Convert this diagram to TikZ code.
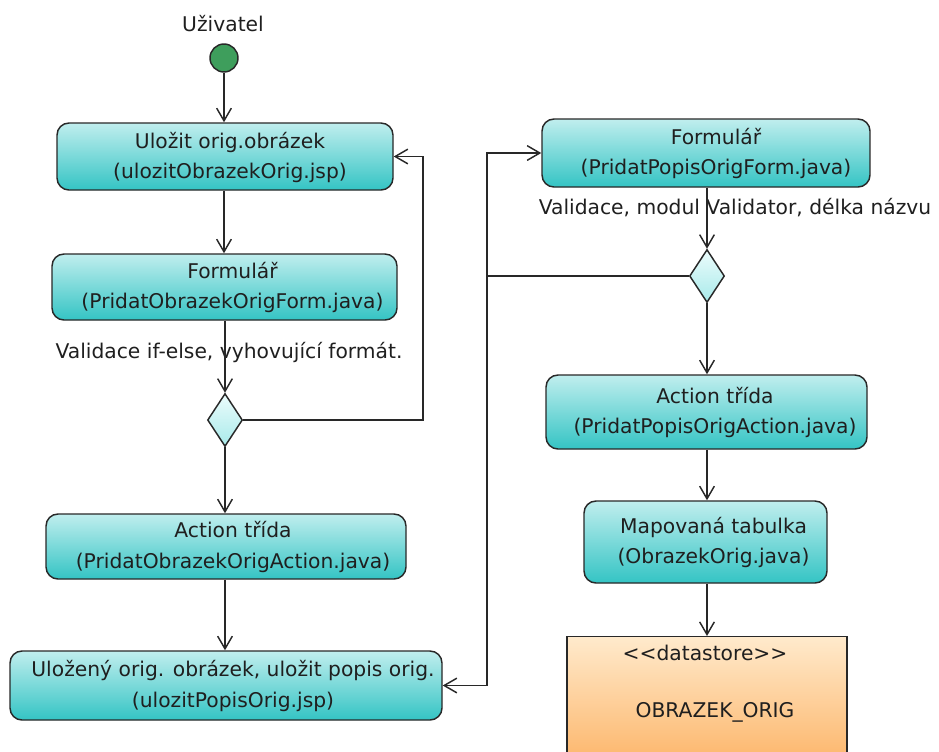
\documentclass[tikz,border=0pt]{standalone}
\usepackage{fontspec}
\setmainfont{DejaVu Sans}
\usetikzlibrary{arrows.meta,shapes.geometric}
\definecolor{actTop}{RGB}{192,238,238}
\definecolor{actBot}{RGB}{52,196,196}
\definecolor{decTop}{RGB}{236,252,252}
\definecolor{decBot}{RGB}{168,234,234}
\definecolor{storeTop}{RGB}{255,234,204}
\definecolor{storeBot}{RGB}{252,176,96}
\definecolor{startFill}{RGB}{62,158,92}
\definecolor{edge}{RGB}{40,40,40}
\begin{document}
\begin{tikzpicture}[x=0.75pt,y=-0.75pt,
  font=\fontsize{15.2}{23.2}\selectfont,
  every node/.style={text=black!88},
  act/.style 2 args={draw=edge, line width=1.1pt, rounded corners=9pt,
    top color=actTop, bottom color=actBot, inner sep=0pt,
    minimum width=#1*0.75pt, minimum height=#2*0.75pt},
  txt/.style={align=center, inner sep=0pt},
  decision/.style={diamond, draw=edge, line width=1.1pt, inner sep=0pt,
    top color=decTop, bottom color=decBot,
    minimum width=35*0.75pt, minimum height=53*0.75pt},
  store/.style={draw=edge, line width=1.1pt, inner sep=0pt,
    top color=storeTop, bottom color=storeBot},
  flow/.style={draw=edge, line width=1.1pt,
    -{Straight Barb[length=9.5pt,width=11pt,line width=1.1pt]}},
]
\useasboundingbox (0,0) rectangle (939,751);
\clip (0,0) rectangle (939,751);

% start point
\node[txt] (user) at (223,24) {Uživatel};
\node[circle, draw=edge, line width=1.1pt, fill=startFill,
      minimum size=28*0.75pt, inner sep=0pt] (start) at (224,58) {};

% left column
\node[act={336}{67}] (b1) at (225,156.5) {};
\node[txt] (t1) at (230,157.5) {Uložit orig.obrázek\\(ulozitObrazekOrig.jsp)};

\node[act={345}{66}] (b2) at (224.5,287) {};
\node[txt] (t2) at (232.5,287.5) {Formulář\\(PridatObrazekOrigForm.java)};

\node[txt] (v1) at (229,352) {Validace if-else, vyhovující formát.};

\node[decision] (d1) at (225,420) {};

\node[act={360}{65}] (b3) at (226,546.5) {};
\node[txt] (t3) at (233,547) {Action třída\\(PridatObrazekOrigAction.java)};

\node[act={432}{69}] (b4) at (226,685.5) {};
\node[txt] (t4) at (233,686) {Uložený orig. obrázek, uložit popis orig.\\(ulozitPopisOrig.jsp)};

% right column
\node[act={328}{68}] (b5) at (706,153) {};
\node[txt] (t5) at (716,153.5) {Formulář\\(PridatPopisOrigForm.java)};

\node[txt] (v2) at (735,208) {Validace, modul Validator, délka názvu};

\node[decision] (d2) at (707,276) {};

\node[act={321}{74}] (b6) at (706.5,412) {};
\node[txt] (t6) at (715,412.5) {Action třída\\(PridatPopisOrigAction.java)};

\node[act={243}{82}] (b7) at (705.5,542) {};
\node[txt] (t7) at (713.5,542.5) {Mapovaná tabulka\\(ObrazekOrig.java)};

\node[store, anchor=north, minimum width=280*0.75pt, minimum height=140*0.75pt]
  (ds) at (707,636) {};
\node[txt] (ds1) at (705,653) {{<}{<}datastore{>}{>}};
\node[txt] (ds2) at (715,712) {OBRAZEK\_ORIG};

% routing helpers
\coordinate (loopR) at (423,0);
\coordinate (bus) at (487,0);

% connectors, left column
\draw[flow] (start) -- (start |- b1.north);
\draw[flow] (b1.south -| start) -- (start |- b2.north);
\draw[flow] (b2.south -| d1) -- (d1.north);
\draw[flow] (d1.east) -- (d1.east -| loopR) -- (loopR |- b1.east) -- (b1.east);
\draw[flow] (d1.south) -- (d1 |- b3.north);
\draw[flow] (b3.south -| d1) -- (d1 |- b4.north);

% connectors, right column
\draw[flow] (b4.east) -- (bus |- b4.east) -- (bus |- b5.west) -- (b5.west);
\draw[flow] (d2.west) -- (bus |- d2.west) -- (bus |- b4.east) -- (b4.east);
\draw[flow] (b5.south -| d2) -- (d2.north);
\draw[flow] (d2.south) -- (d2 |- b6.north);
\draw[flow] (b6.south -| d2) -- (d2 |- b7.north);
\draw[flow] (b7.south -| d2) -- (d2 |- ds.north);
\end{tikzpicture}
\end{document}
